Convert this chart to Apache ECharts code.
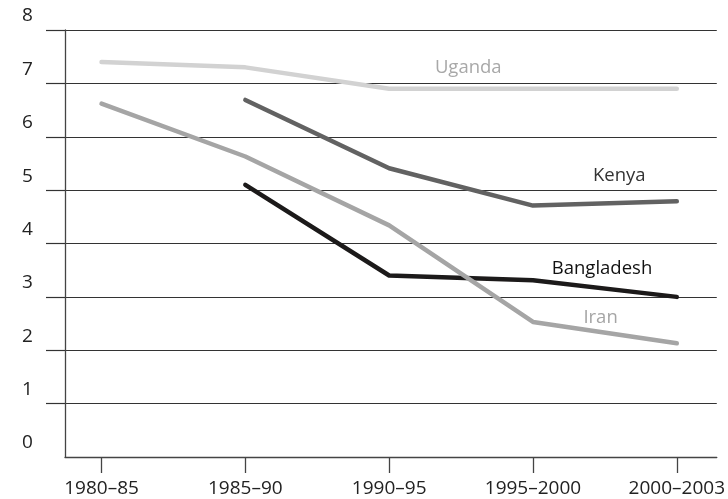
<!DOCTYPE html>
<html>
<head>
<meta charset="utf-8">
<script src="https://cdn.jsdelivr.net/npm/echarts@6/dist/echarts.min.js"></script>
<style>html,body{margin:0;padding:0;background:#fff}#c{width:728px;height:499px}</style>
</head>
<body>
<div id="c"></div>
<script>
var periods = ['1980–85', '1985–90', '1990–95', '1995–2000', '2000–2003'];
var uganda = [7.4, 7.3, 6.9, 6.9, 6.9];
var kenya = [null, 6.69, 5.41, 4.71, 4.79];
var bangladesh = [null, 5.1, 3.4, 3.31, 3.0];
var iran = [6.62, 5.63, 4.34, 2.53, 2.13];
var yTicks = [0, 1, 2, 3, 4, 5, 6, 7, 8];

function pts(arr) {
  var out = [];
  arr.forEach(function (v, i) { if (v !== null) out.push([i, v]); });
  return out;
}
var FONT = '"Open Sans", "Noto Sans", sans-serif';
function series(name, arr, color, labelColor, lx, ly) {
  return {
    name: name, type: 'line', data: pts(arr), symbol: 'none',
    lineStyle: { color: color, width: 4.5, cap: 'round', join: 'round' },
    z: 5,
    markPoint: {
      symbol: 'circle', symbolSize: 0,
      label: { show: true, formatter: name, color: labelColor, fontSize: 18.5, fontFamily: FONT },
      data: [{ coord: [lx, ly] }]
    }
  };
}
var chart = echarts.init(document.getElementById('c'));
chart.setOption({
  animation: false,
  grid: { left: 65, right: 9, top: 30, bottom: 42 },
  xAxis: {
    type: 'value', min: -0.254, max: 4.278,
    splitLine: { show: false },
    axisLine: { show: true, onZero: false, lineStyle: { color: '#444', width: 1.3 } },
    axisTick: { show: true, customValues: [0, 1, 2, 3, 4], length: 16, inside: false, lineStyle: { color: '#444', width: 1.3 } },
    axisLabel: {
      customValues: [0, 1, 2, 3, 4], margin: 22, color: '#222', fontSize: 19, fontFamily: FONT,
      formatter: function (v) { return periods[Math.round(v)]; }
    }
  },
  yAxis: {
    type: 'value', min: 0, max: 8, interval: 1,
    axisLine: { show: true, onZero: false, lineStyle: { color: '#444', width: 1.3 } },
    axisTick: { show: true, customValues: [1, 2, 3, 4, 5, 6, 7, 8], length: 19, lineStyle: { color: '#333', width: 1.2 } },
    splitLine: { show: true, lineStyle: { color: '#333', width: 1.2 } },
    axisLabel: {
      customValues: yTicks, margin: 43, align: 'left', verticalAlign: 'bottom',
      lineHeight: 28, color: '#222', fontSize: 19, fontFamily: FONT
    }
  },
  series: [
    series('Uganda', uganda, '#d2d2d2', '#a8a8a8', 2.55, 7.3),
    series('Kenya', kenya, '#626262', '#333', 3.6, 5.27),
    series('Bangladesh', bangladesh, '#1c1a1a', '#111', 3.48, 3.53),
    series('Iran', iran, '#a5a5a5', '#a5a5a5', 3.47, 2.6)
  ]
});
</script>
</body>
</html>
